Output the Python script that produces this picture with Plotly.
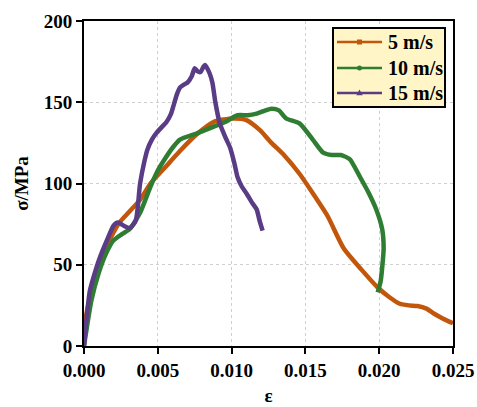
import plotly.graph_objects as go

eps_5 = [0.0, 0.0004, 0.0010, 0.0016, 0.0024, 0.0030, 0.0038, 0.0045, 0.0055, 0.0065, 0.0076, 0.0088, 0.0101, 0.0110, 0.0119, 0.0127, 0.0135, 0.0146, 0.0155, 0.0165, 0.0176, 0.0188, 0.0199, 0.0207, 0.0214, 0.0220, 0.0226, 0.0232, 0.0237, 0.0243, 0.0250]
sig_5 = [12, 30, 48, 63, 76, 82, 90, 100, 110, 120, 130, 138, 140, 139, 133, 125, 118, 106, 94, 80, 60, 47, 36, 30, 26, 25, 24.6, 23, 20, 17, 14]

eps_10 = [0.0, 0.0005, 0.0010, 0.0015, 0.0020, 0.0026, 0.0031, 0.0038, 0.0045, 0.0050, 0.0054, 0.0060, 0.0065, 0.0077, 0.0088, 0.0096, 0.0104, 0.0111, 0.0117, 0.0123, 0.0127, 0.0132, 0.0137, 0.0146, 0.0155, 0.0162, 0.0168, 0.0174, 0.0180, 0.0187, 0.0193, 0.0198, 0.0202, 0.0203, 0.0202, 0.0201, 0.0199]
sig_10 = [0, 28, 45, 57, 65, 69, 72, 82, 98, 108, 114, 122, 127, 131, 135, 138, 142, 142, 143, 145, 146, 145, 140, 137, 127, 119, 117.5, 117.5, 115, 104, 94, 84, 72, 60, 48, 40, 33]

eps_15 = [0.0, 0.0004, 0.0008, 0.0011, 0.0016, 0.0020, 0.0023, 0.0027, 0.0031, 0.0035, 0.0038, 0.0041, 0.0043, 0.0046, 0.0049, 0.0053, 0.0056, 0.0059, 0.0061, 0.0063, 0.0065, 0.0068, 0.0070, 0.0073, 0.0075, 0.0077, 0.0079, 0.0081, 0.0082, 0.0085, 0.0087, 0.0089, 0.0092, 0.0096, 0.0099, 0.0102, 0.0104, 0.0107, 0.0110, 0.0114, 0.0117, 0.0119, 0.0121]
sig_15 = [0, 34, 47, 55, 66, 74, 76, 74, 72.6, 77, 100, 114, 121, 127, 131, 135, 138, 143, 149, 155, 159, 161, 162, 166, 171, 169, 168.6, 172, 173, 168, 162, 150, 137, 128, 122, 112, 104, 98, 94, 88, 84, 77, 71]

names = ["5 m/s", "10 m/s", "15 m/s"]
colors = ["#C2570C", "#2F7D32", "#5A3C86"]
symbols = ["square", "circle", "triangle"]
xs = [eps_5, eps_10, eps_15]
ys = [sig_5, sig_10, sig_15]

x_ticks = [0.0, 0.005, 0.010, 0.015, 0.020, 0.025]
x_labels = ["0.000", "0.005", "0.010", "0.015", "0.020", "0.025"]
y_ticks = [0, 50, 100, 150, 200]

font_family = "Liberation Serif"

W, H = 477, 407
ML, MR, MT, MB = 84, 24, 21, 61
PW, PH = W - ML - MR, H - MT - MB


def px_x(p):
    return (p - ML) / PW


def px_y(p):
    return (H - MB - p) / PH


fig = go.Figure()
for x, y, n, c in zip(xs, ys, names, colors):
    fig.add_trace(go.Scatter(
        x=x, y=y, name=n, mode="lines", showlegend=False,
        line=dict(color=c, width=4.5, shape="spline", smoothing=0.6),
    ))

# custom legend box
shapes = [dict(type="rect", xref="paper", yref="paper",
               x0=px_x(333), x1=px_x(445), y0=px_y(107), y1=px_y(28),
               fillcolor="#FFF5C6", line=dict(color="black", width=2), layer="above")]
annotations = []
rows = [42, 68, 93]
for n, c, s, ry in zip(names, colors, symbols, rows):
    shapes.append(dict(type="line", xref="paper", yref="paper",
                       x0=px_x(337), x1=px_x(382), y0=px_y(ry), y1=px_y(ry),
                       line=dict(color=c, width=2.5), layer="above"))
    cx = 359.5
    r = 2.5
    if s == "square":
        shapes.append(dict(type="rect", xref="paper", yref="paper",
                           x0=px_x(cx - r), x1=px_x(cx + r), y0=px_y(ry + r), y1=px_y(ry - r),
                           fillcolor=c, line=dict(color=c, width=0), layer="above"))
    elif s == "circle":
        shapes.append(dict(type="circle", xref="paper", yref="paper",
                           x0=px_x(cx - r), x1=px_x(cx + r), y0=px_y(ry + r), y1=px_y(ry - r),
                           fillcolor=c, line=dict(color=c, width=0), layer="above"))
    else:
        path = "M {:.5f},{:.5f} L {:.5f},{:.5f} L {:.5f},{:.5f} Z".format(
            px_x(cx - 3.2), px_y(ry + 2.2), px_x(cx + 3.2), px_y(ry + 2.2), px_x(cx), px_y(ry - 3.5))
        shapes.append(dict(type="path", xref="paper", yref="paper", path=path,
                           fillcolor=c, line=dict(color=c, width=0), layer="above"))
    annotations.append(dict(xref="paper", yref="paper", x=px_x(386), y=px_y(ry),
                            xanchor="left", yanchor="middle", showarrow=False, text=n,
                            font=dict(family=font_family, size=20, color="black", weight="bold")))

fig.update_layout(
    width=W, height=H,
    margin=dict(l=ML, r=MR, t=MT, b=MB, autoexpand=False),
    paper_bgcolor="white", plot_bgcolor="white",
    font=dict(family=font_family, size=16, color="black"),
    showlegend=False,
    shapes=shapes, annotations=annotations,
)

fig.update_xaxes(
    range=[0, 0.025], tickvals=x_ticks, ticktext=x_labels, automargin=False,
    showline=True, linecolor="black", linewidth=2, mirror=True,
    ticks="outside", ticklen=6, tickwidth=2, tickcolor="black",
    showgrid=True, gridcolor="#d0d0d0", griddash="dot", gridwidth=1,
    zeroline=False,
    tickfont=dict(family=font_family, size=19, weight="bold"),
    title=dict(text="ε", font=dict(family=font_family, size=19, weight="bold"), standoff=9),
)
fig.update_yaxes(
    range=[0, 200], tickvals=y_ticks, automargin=False,
    showline=True, linecolor="black", linewidth=2, mirror=True,
    ticks="outside", ticklen=6, tickwidth=2, tickcolor="black",
    showgrid=True, gridcolor="#d0d0d0", griddash="dot", gridwidth=1,
    zeroline=False,
    tickfont=dict(family=font_family, size=19, weight="bold"),
    title=dict(text="σ/MPa", font=dict(family=font_family, size=19, weight="bold"), standoff=10),
)

fig.write_html("out.html")
